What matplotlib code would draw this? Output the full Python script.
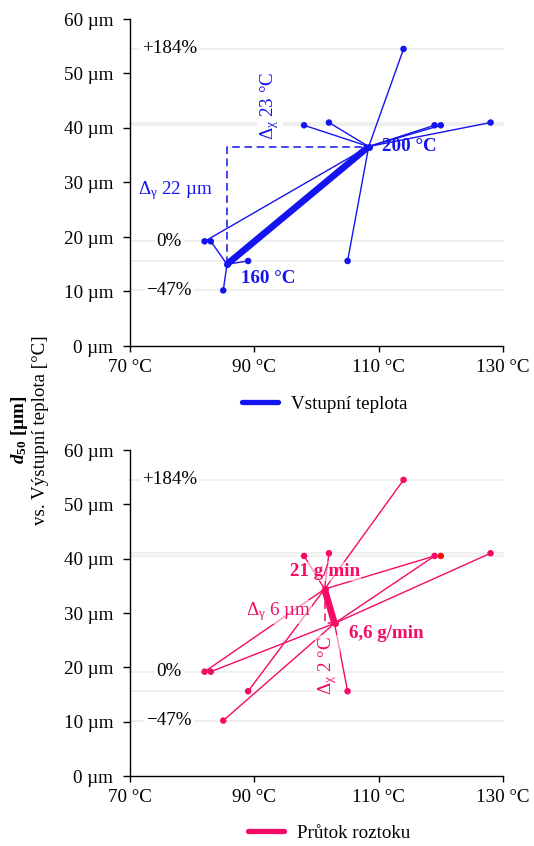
import matplotlib
matplotlib.use("Agg")
import matplotlib.pyplot as plt
from matplotlib.lines import Line2D

plt.rcParams['font.family'] = ['Liberation Serif', 'DejaVu Serif']
plt.rcParams['mathtext.fontset'] = 'custom'
plt.rcParams['mathtext.rm'] = 'Liberation Serif'
plt.rcParams['mathtext.it'] = 'Liberation Serif:italic'
plt.rcParams['mathtext.bf'] = 'Liberation Serif:bold'
try:
    plt.rcParams['mathtext.bfit'] = 'Liberation Serif:bold:italic'
except Exception:
    pass

# ---------------- data ----------------
pt_temp = [114, 98, 102, 119, 120, 128, 82, 83, 89, 105, 85]          # outlet temperature [°C]
pt_d50 = [54.5, 40.5, 41.0, 40.5, 40.5, 41.0, 19.2, 19.2, 15.6, 15.6, 10.2]  # d50 [µm]

# inlet temperature levels
inlet_labels = ["160 °C", "200 °C"]
inlet_center_x = [85.6, 108.4]
inlet_center_y = [15.0, 36.6]
inlet_members = [[7, 8, 10], [0, 1, 2, 3, 4, 5, 6, 9]]

# solution flow levels
flow_labels = ["21 g/min", "6,6 g/min"]
flow_center_x = [101.3, 102.9]
flow_center_y = [34.4, 28.1]
flow_members = [[0, 1, 2, 3, 6, 8], [3, 5, 7, 9, 10]]
flow_marker_red = [4]

ref_levels = [54.5, 41.0, 40.5, 19.2, 15.6, 10.2]
pct_labels = ["+184%", "0%", "\u221247%"]
pct_values = [54.5, 19.2, 10.2]

xticks = [70, 90, 110, 130]
yticks = [0, 10, 20, 30, 40, 50, 60]

BLUE = '#1414F0'
PINK = '#F50A66'
RED = '#F01010'
FS = 13.7

fig = plt.figure(figsize=(5.34, 8.46), dpi=100)
ax1 = fig.add_axes([130/534, 1-346/846, 373/534, 327/846])
ax2 = fig.add_axes([130/534, 1-776/846, 373/534, 326/846])


def base(ax):
    ax.set_xlim(70, 130)
    ax.set_ylim(0, 60)
    ax.set_xticks(xticks)
    ax.set_xticklabels([f"{t} °C" for t in xticks])
    ax.set_yticks(yticks)
    ax.set_yticklabels([f"{t} µm" for t in yticks])
    for s in ['top', 'right']:
        ax.spines[s].set_visible(False)
    for s in ['left', 'bottom']:
        ax.spines[s].set_linewidth(1.0)
        ax.spines[s].set_clip_on(False)
    ax.tick_params(axis='x', direction='out', length=4.5, width=1, labelsize=FS, pad=5)
    ax.tick_params(axis='y', direction='out', length=5, width=1, labelsize=FS, pad=7)
    for yv in ref_levels:
        ax.plot([70, 130], [yv, yv], color='#ECECEC', lw=1.2, zorder=0.5, clip_on=False)
    for lab, yv in zip(pct_labels, pct_values):
        ax.text(76.3, yv, lab, ha='center', va='center', fontsize=FS, color='black',
                zorder=1, bbox=dict(boxstyle='square,pad=0.1', fc='white', ec='none'))


def draw(ax, cx, cy, members, color, marker_colors):
    for k in range(len(cx)):
        for i in members[k]:
            ax.plot([cx[k], pt_temp[i]], [cy[k], pt_d50[i]], color=color, lw=1.0,
                    zorder=2, clip_on=False)
    ax.plot(cx, cy, color=color, lw=4.8, solid_capstyle='butt', zorder=3)
    ax.plot([cx[0], cx[0], cx[1]], [cy[0], cy[1], cy[1]], color=color, lw=1.1,
            ls=(0, (5, 3)), zorder=2)
    ax.scatter(pt_temp, pt_d50, s=22, c=marker_colors, zorder=4, linewidths=0, clip_on=False)
    ax.scatter(cx, cy, s=26, c=color, zorder=4, linewidths=0)


# ---------- top chart ----------
base(ax1)
draw(ax1, inlet_center_x, inlet_center_y, inlet_members, BLUE, [BLUE]*len(pt_temp))
ax1.text(110.6, inlet_center_y[1], inlet_labels[1], color=BLUE, fontsize=FS,
         fontweight='bold', ha='left', va='center', zorder=5)
ax1.text(87.9, 12.4, inlet_labels[0], color=BLUE, fontsize=FS,
         fontweight='bold', ha='left', va='center', zorder=5)
ax1.text(71.3, 28.6, r"Δ$_{\mathrm{γ}}$ 22 µm", color=BLUE, fontsize=FS, ha='left', va='center',
         zorder=5, bbox=dict(boxstyle='square,pad=0.1', fc='white', ec='none', alpha=0.6))
ax1.text(92.5, 44.0, r"Δ$_{\mathrm{χ}}$ 23 °C", color=BLUE, fontsize=FS, ha='center', va='center',
         rotation=90, zorder=5, bbox=dict(boxstyle='square,pad=0.1', fc='white', ec='none'))

# ---------- bottom chart ----------
base(ax2)
mcols = [RED if i in flow_marker_red else PINK for i in range(len(pt_temp))]
draw(ax2, flow_center_x, flow_center_y, flow_members, PINK, mcols)
ax2.text(95.7, 37.6, flow_labels[0], color=PINK, fontsize=FS, fontweight='bold',
         ha='left', va='center', zorder=5,
         bbox=dict(boxstyle='square,pad=0.05', fc='white', ec='none', alpha=0.55))
ax2.text(105.2, 26.3, flow_labels[1], color=PINK, fontsize=FS, fontweight='bold',
         ha='left', va='center', zorder=5)
ax2.text(88.7, 30.2, r"Δ$_{\mathrm{γ}}$ 6 µm", color=PINK, fontsize=FS, ha='left', va='center',
         zorder=5, bbox=dict(boxstyle='square,pad=0.05', fc='white', ec='none', alpha=0.55))
ax2.text(101.8, 20.4, r"Δ$_{\mathrm{χ}}$ 2 °C", color=PINK, fontsize=FS, ha='center', va='center',
         rotation=90, zorder=5,
         bbox=dict(boxstyle='square,pad=0.05', fc='white', ec='none', alpha=0.55))

# ---------- legends ----------
h1 = Line2D([0], [0], color=BLUE, lw=3.8, solid_capstyle='round')
fig.legend([h1], ["Vstupní teplota"], loc='center', bbox_to_anchor=(0.608, 1-404/846),
           frameon=False, fontsize=FS, handlelength=1.9, handletextpad=0.7)
h2 = Line2D([0], [0], color=PINK, lw=3.8, solid_capstyle='round')
fig.legend([h2], ["Průtok roztoku"], loc='center', bbox_to_anchor=(0.616, 1-833/846),
           frameon=False, fontsize=FS, handlelength=1.9, handletextpad=0.7)

# ---------- y label ----------
try:
    fig.text(20/534, 1-430/846, r"$\mathbfit{d}_{\mathbf{50}}$ [µm]", rotation=90,
             ha='center', va='center', fontsize=FS, fontweight='bold')
    fig.canvas.draw()
except Exception:
    fig.texts[-1].remove()
    fig.text(20/534, 1-430/846, r"$\mathit{d}_{\mathbf{50}}$ [µm]", rotation=90,
             ha='center', va='center', fontsize=FS, fontweight='bold')
fig.text(41/534, 1-430/846, "vs. Výstupní teplota [°C]", rotation=90,
         ha='center', va='center', fontsize=FS)

fig.savefig("out.png", dpi=100)
